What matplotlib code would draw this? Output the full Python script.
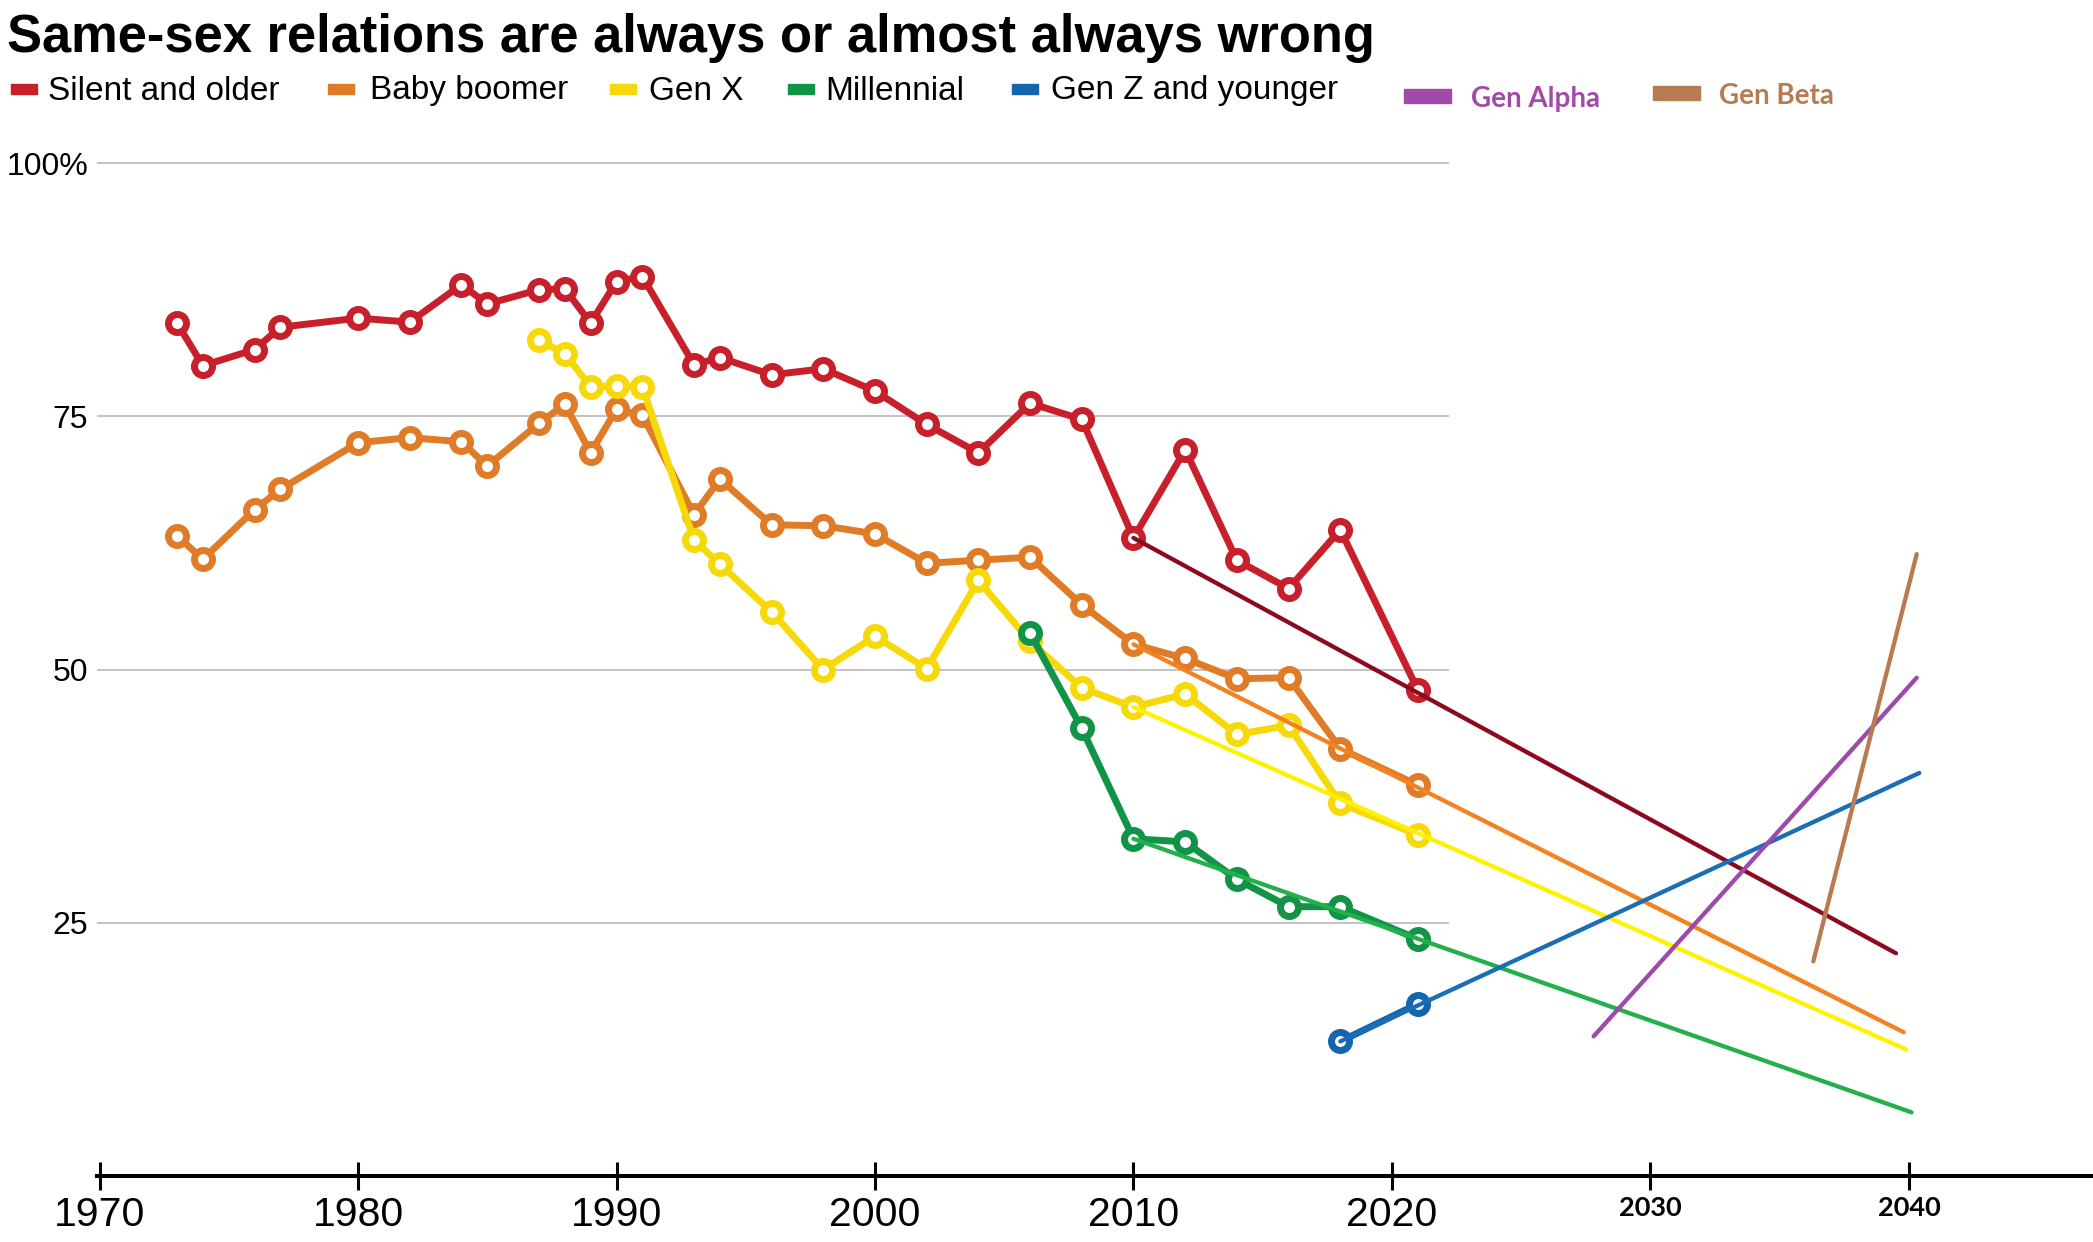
import matplotlib.pyplot as plt
from matplotlib.patches import Rectangle

# survey years
years_silent = [1973, 1974, 1976, 1977, 1980, 1982, 1984, 1985, 1987, 1988, 1989, 1990, 1991,
                1993, 1994, 1996, 1998, 2000, 2002, 2004, 2006, 2008, 2010, 2012, 2014, 2016,
                2018, 2021]
silent = [84.2, 80.0, 81.6, 83.8, 84.7, 84.3, 88.0, 86.1, 87.5, 87.6, 84.2, 88.3, 88.8,
          80.1, 80.8, 79.1, 79.7, 77.5, 74.2, 71.4, 76.3, 74.7, 63.0, 71.7, 60.8, 58.0,
          63.8, 48.0]

years_boomer = years_silent
boomer = [63.2, 60.9, 65.8, 67.8, 72.4, 72.9, 72.5, 70.1, 74.3, 76.2, 71.4, 75.7, 75.1,
          65.3, 68.8, 64.3, 64.2, 63.4, 60.5, 60.8, 61.1, 56.4, 52.5, 51.1, 49.1, 49.2,
          42.2, 38.6]

years_genx = years_silent[8:]
genx = [82.5, 81.2, 77.9, 78.0, 77.9, 62.8, 60.4, 55.7, 50.0, 53.3, 50.1, 58.8, 52.8,
        48.2, 46.3, 47.6, 43.6, 44.5, 36.8, 33.7]

years_mill = [2006, 2008, 2010, 2012, 2014, 2016, 2018, 2021]
mill = [53.6, 44.2, 33.3, 33.0, 29.3, 26.6, 26.6, 23.4]

years_genz = [2018, 2021]
genz = [13.3, 17.0]

# projection lines (start, end)
proj_silent = ([2010, 2039.5], [63.0, 22.0])
proj_boomer = ([2010, 2039.8], [52.5, 14.2])
proj_genx = ([2010, 2039.9], [46.3, 12.5])
proj_mill = ([2010, 2040.1], [33.3, 6.3])
proj_genz = ([2018, 2040.4], [13.3, 39.8])
proj_alpha = ([2027.8, 2040.3], [13.8, 49.2])
proj_beta = ([2036.3, 2040.3], [21.2, 61.4])

yticks = [25, 50, 75, 100]
ytick_labels = ['25', '50', '75', '100%']
xticks = [1970, 1980, 1990, 2000, 2010, 2020, 2030, 2040]

W, H = 2093, 1242
plt.rcParams['font.family'] = ['Liberation Sans', 'DejaVu Sans']

fig = plt.figure(figsize=(W / 100, H / 100), dpi=100)
ax = fig.add_axes([0, 0, 1, 1])
ax.set_xlim(1966.15, 2047.12)
ax.set_ylim(-6.5, 116.1)

# axes styling
for s in ['top', 'right']:
    ax.spines[s].set_visible(False)
ax.spines['left'].set_position(('data', 1969.9))
ax.spines['left'].set_visible(False)
ax.spines['bottom'].set_position(('data', 0))
ax.spines['bottom'].set_bounds(1969.9, 2047.12)
ax.spines['bottom'].set_linewidth(2.9)

ax.set_xticks(xticks)
ax.tick_params(axis='x', direction='inout', length=20, width=2.2, pad=4, labelsize=29.5)
ax.set_yticks(yticks)
ax.set_yticklabels(ytick_labels)
ax.tick_params(axis='y', length=0, pad=6.5, labelsize=23)
for lab in ax.get_xticklabels():
    if lab.get_text() in ('2030', '2040'):
        lab.set_fontweight('bold')
        lab.set_fontsize(19.5)
        lab.set_family(['Lato', 'DejaVu Sans'])

ax.hlines(yticks, 1969.92, 2022.2, color='#b3b3b3', lw=1.1, zorder=1)

mk = dict(marker='o', markersize=13, markeredgewidth=5, markerfacecolor='white',
          lw=5, zorder=3)
ax.plot(years_silent, silent, color='#c8202b', markeredgecolor='#c8202b', **mk)
ax.plot(years_boomer, boomer, color='#e07b28', markeredgecolor='#e07b28', **mk)
ax.plot(years_genx, genx, color='#f7d90a', markeredgecolor='#f7d90a', **mk)
ax.plot(years_mill, mill, color='#119447', markeredgecolor='#119447', **mk)
ax.plot(years_genz, genz, color='#1565ae', markeredgecolor='#1565ae', **mk)

pl = dict(lw=3.1, solid_capstyle='round', zorder=4)
ax.plot(*proj_silent, color='#8c0a1e', **pl)
ax.plot(*proj_boomer, color='#f58220', **pl)
ax.plot(*proj_genx, color='#fff200', **pl)
ax.plot(*proj_mill, color='#22b04b', **pl)
ax.plot(*proj_genz, color='#1b6db5', **pl)
ax.plot(*proj_alpha, color='#9d4aaa', **pl)
ax.plot(*proj_beta, color='#b87a50', **pl)

# title
fig.text(7 / W, 1 - 52 / H, 'Same-sex relations are always or almost always wrong',
         fontsize=37.8, fontweight='bold', va='baseline', ha='left')

# legend
legend_items = [('Silent and older', '#c8202b', 11, 48),
                ('Baby boomer', '#e07b28', 328, 370),
                ('Gen X', '#f7d90a', 610, 649),
                ('Millennial', '#119447', 788, 825),
                ('Gen Z and younger', '#1565ae', 1012, 1051)]
for name, col, px, tx in legend_items:
    fig.patches.append(Rectangle((px / W, 1 - 94 / H), 26 / W, 10 / H, color=col,
                                 transform=fig.transFigure, figure=fig))
    fig.text(tx / W, 1 - 91 / H, name, fontsize=24, va='center', ha='left')

extra_items = [('Gen Alpha', '#a24aa8', 1404, 96, 1471, 99),
               ('Gen Beta', '#b87a50', 1653, 93, 1719, 96)]
for name, col, px, py, tx, ty in extra_items:
    fig.patches.append(Rectangle((px / W, 1 - (py + 7) / H), 47 / W, 14 / H, color=col,
                                 transform=fig.transFigure, figure=fig))
    fig.text(tx / W, 1 - ty / H, name, fontsize=20, fontweight='bold', color=col,
             va='center', ha='left', family=['Lato', 'DejaVu Sans'])

fig.savefig('out.png', dpi=100)
